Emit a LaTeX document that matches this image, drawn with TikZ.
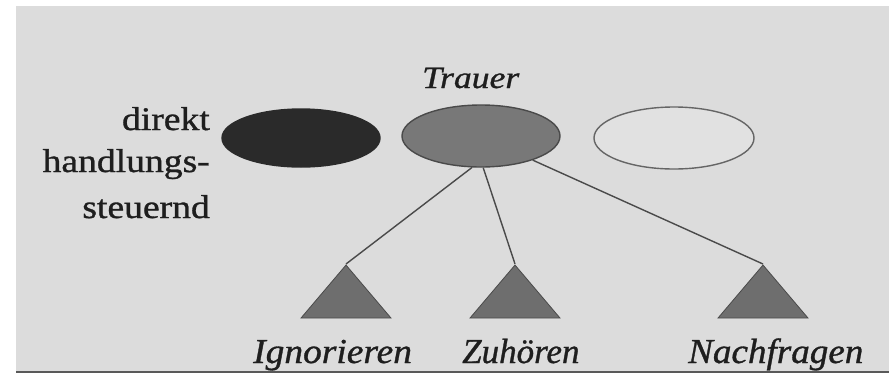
\documentclass[tikz,border=0pt]{standalone}
\usepackage{fontspec}
\setmainfont{Liberation Serif}[FakeBold=0.9]
\usetikzlibrary{shapes.geometric}
\definecolor{bg}{HTML}{DCDCDC}
\definecolor{ink}{HTML}{1E1E1E}
\definecolor{darkfill}{HTML}{2A2A2A}
\definecolor{midfill}{HTML}{787878}
\definecolor{edge}{HTML}{4A4A4A}
\definecolor{trifill}{HTML}{6E6E6E}
\definecolor{paleell}{HTML}{E1E1E1}
\tikzset{
  ell/.style={ellipse, minimum width=158pt, inner sep=0pt, draw=edge, line width=1.4pt},
  tri/.style={isosceles triangle, isosceles triangle stretches, shape border rotate=90,
     minimum width=90pt, minimum height=53pt, inner sep=0pt, fill=trifill, draw=edge, line width=0.8pt},
  conn/.style={draw=edge, line width=1.4pt},
  side/.style={inner sep=0pt, text=ink, font=\fontsize{33}{40}\selectfont, anchor=base east},
  lab/.style={inner sep=0pt, text=ink, font=\fontsize{35}{40}\selectfont\itshape, anchor=base west}
}
\begin{document}
\begin{tikzpicture}[x=1pt,y=-1pt]
\useasboundingbox (0,0) rectangle (889,373);
\fill[white] (0,0) rectangle (889,373);
\fill[bg] (16,6) rectangle (889,371);
\fill[black!65] (16,370.5) rectangle (889,373);
% ellipses
\node[ell, fill=darkfill, draw=darkfill, minimum height=58pt] (e1) at (301,138) {};
\node[ell, fill=midfill, minimum height=62pt] (e2) at (481,136) {};
\node[ell, fill=paleell, draw=edge!85, minimum width=160pt, minimum height=62pt] (e3) at (674,138) {};
% labels
\node[inner sep=0pt, text=ink, font=\fontsize{31}{36}\selectfont\itshape, anchor=base west] (tr) at (422,88) {\scalebox{1.15}[1]{Trauer}};
\node[side] (s1) at (210,130) {\scalebox{1.14}[1]{direkt}};
\node[side] (s2) at (210,172) {\scalebox{1.14}[1]{handlungs-}};
\node[side] (s3) at (210,218) {\scalebox{1.14}[1]{steuernd}};
% triangles
\node[tri, anchor=apex] (t1) at (346,264) {};
\node[tri, anchor=apex] (t2) at (515,264) {};
\node[tri, anchor=apex] (t3) at (763,264) {};
% connectors
\draw[conn] (e2.254) -- (t1.apex);
\draw[conn] (e2.274) -- (t2.apex);
\draw[conn] (e2.335) -- (t3.apex);
% bottom labels
\node[lab] (l1) at (253,363) {\scalebox{1.07}[1]{Ignorieren}};
\node[lab] (l2) at (462,363) {Zuhören};
\node[lab] (l3) at (688,363) {\scalebox{1.06}[1]{Nachfragen}};
\end{tikzpicture}
\end{document}
